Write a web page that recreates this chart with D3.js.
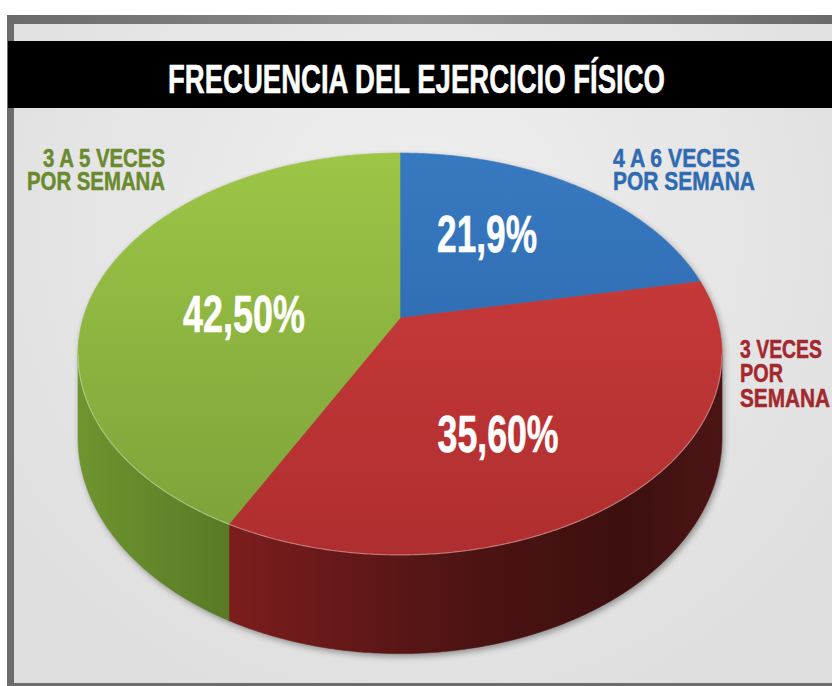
<!DOCTYPE html>
<html lang="es">
<head>
  <meta charset="UTF-8">
  <title>Frecuencia del ejercicio físico</title>
  <script src="https://d3js.org/d3.v7.min.js"></script>
  <style>
    body { margin: 0; background: #fff; }
    svg text { font-family: "Liberation Sans Narrow", "Liberation Sans", sans-serif; font-weight: bold; }
  </style>
</head>
<body>
  <svg class="piesvg" width="832" height="686"></svg>
  <script>
    // data
    const title = 'FRECUENCIA DEL EJERCICIO FÍSICO';
    const categories = ['4 A 6 VECES POR SEMANA', '3 VECES POR SEMANA', '3 A 5 VECES POR SEMANA'];
    const values = [21.9, 35.6, 42.5];
    const valueLabels = ['21,9%', '35,60%', '42,50%'];
    const categoryLines = [['4 A 6 VECES', 'POR SEMANA'], ['3 VECES', 'POR', 'SEMANA'], ['3 A 5 VECES', 'POR SEMANA']];

    // styles
    const topColors = [['#3779c0', '#2961a5'], ['#d03d3d', '#af2e2f'], ['#9dc546', '#7ba139']];
    const sideStops = [
      [[0, '#23508a'], [1, '#1c416f']],
      [[0, '#7c1d1d'], [0.45, '#501414'], [0.8, '#3d0f0f'], [1, '#4c1515']],
      [[0, '#6f942f'], [1, '#597a26']]
    ];
    const textColors = ['#2f6bb2', '#a3282d', '#6a8a2e'];

    // layout
    const pie3d = { cx: 400, cy: 318, rx: 316.8, ry: 194.5, k: 0.179, depth: 81 };
    const valueSpots = [[0.298, -0.474], [0.280, 0.535], [-0.495, -0.025]];
    const valueWidths = [100, 121, 122];
    const catLayout = [
      { x: 613, y: 167, anchor: 'start', lh: 23, size: 26, widths: [127, 142] },
      { x: 740, y: 358, anchor: 'start', lh: 24.3, size: 25, widths: [82, 43, 90] },
      { x: 165, y: 167, anchor: 'end', lh: 23, size: 26, widths: [122, 138] }
    ];

    const svg = d3.select('svg.piesvg');
    const defs = svg.append('defs');

    // frame + background
    const topBorder = defs.append('linearGradient').attr('id', 'topBorder')
      .attr('gradientUnits', 'userSpaceOnUse').attr('x1', 0).attr('x2', 832);
    topBorder.append('stop').attr('offset', 0).attr('stop-color', '#6a6a6a');
    topBorder.append('stop').attr('offset', 0.5).attr('stop-color', '#8e8e8e');
    topBorder.append('stop').attr('offset', 1).attr('stop-color', '#6a6a6a');

    const bg = defs.append('radialGradient').attr('id', 'bg')
      .attr('gradientUnits', 'userSpaceOnUse')
      .attr('cx', 420).attr('cy', 230).attr('r', 520);
    bg.append('stop').attr('offset', 0).attr('stop-color', '#efefef');
    bg.append('stop').attr('offset', 1).attr('stop-color', '#dfdfdf');

    svg.append('rect').attr('x', 7).attr('y', 15).attr('width', 900).attr('height', 680).attr('fill', '#6c6c6c');
    svg.append('rect').attr('x', 7).attr('y', 15).attr('width', 900).attr('height', 9).attr('fill', 'url(#topBorder)');
    svg.append('rect').attr('x', 14).attr('y', 24).attr('width', 900).attr('height', 659).attr('fill', 'url(#bg)');

    svg.append('rect').attr('x', 8).attr('y', 41).attr('width', 900).attr('height', 67).attr('fill', '#000');
    svg.append('text')
      .attr('x', 416.5).attr('y', 93)
      .attr('text-anchor', 'middle')
      .attr('font-size', 41)
      .attr('fill', '#fff')
      .attr('stroke', '#fff').attr('stroke-width', 0.6)
      .attr('textLength', 497).attr('lengthAdjust', 'spacingAndGlyphs')
      .text(title);

    // projection of disk coords (u right, v toward viewer), h = 0 top, 1 bottom
    function projectUV(u, v, h) {
      const s = 1 / (1 - pie3d.k * v);
      return [pie3d.cx + pie3d.rx * u * s, pie3d.cy + (pie3d.ry * v + pie3d.depth * h) * s];
    }
    function project(a, r, h) {
      return projectUV(r * Math.sin(a), -r * Math.cos(a), h);
    }
    function rim(a0, a1, h) {
      const n = Math.max(2, Math.ceil(Math.abs(a1 - a0) / 0.008));
      return d3.range(n + 1).map(i => project(a0 + (a1 - a0) * i / n, 1, h));
    }
    const line = d3.line();

    const arcs = d3.pie().sort(null).value(d => d)(values);
    const sil = Math.acos(-pie3d.k);
    const frontA = sil, frontB = 2 * Math.PI - sil;

    // gradients
    arcs.forEach((d, i) => {
      const g = defs.append('linearGradient').attr('id', 'top' + i)
        .attr('gradientUnits', 'userSpaceOnUse')
        .attr('x1', 0).attr('y1', project(0, 1, 0)[1]).attr('x2', 0).attr('y2', project(Math.PI, 1, 0)[1]);
      g.append('stop').attr('offset', 0).attr('stop-color', topColors[i][0]);
      g.append('stop').attr('offset', 1).attr('stop-color', topColors[i][1]);

      const a0 = Math.max(d.startAngle, frontA), a1 = Math.min(d.endAngle, frontB);
      const x0 = a1 > a0 ? project(a1, 1, 0)[0] : 0;
      const x1 = a1 > a0 ? project(a0, 1, 0)[0] : 1;
      const s = defs.append('linearGradient').attr('id', 'side' + i)
        .attr('gradientUnits', 'userSpaceOnUse')
        .attr('x1', x0).attr('y1', 0).attr('x2', x1).attr('y2', 0);
      sideStops[i].forEach(st => s.append('stop').attr('offset', st[0]).attr('stop-color', st[1]));
    });

    const blur = defs.append('filter').attr('id', 'shadow')
      .attr('x', '-10%').attr('y', '-10%').attr('width', '120%').attr('height', '130%');
    blur.append('feGaussianBlur').attr('stdDeviation', 3);

    // shadow of the whole silhouette
    const outline = rim(frontA, frontB, 1).concat(rim(frontB, frontA + 2 * Math.PI, 0));
    svg.append('path')
      .attr('d', line(outline) + 'Z')
      .attr('transform', 'translate(2,3)')
      .attr('fill', '#2a2a2a')
      .attr('opacity', 0.45)
      .attr('filter', 'url(#shadow)');

    // side walls (front half only)
    arcs.forEach((d, i) => {
      const a0 = Math.max(d.startAngle, frontA), a1 = Math.min(d.endAngle, frontB);
      if (a1 <= a0) return;
      const pts = rim(a0, a1, 0).concat(rim(a1, a0, 1));
      svg.append('path')
        .attr('d', line(pts) + 'Z')
        .attr('fill', `url(#side${i})`)
        .attr('stroke', `url(#side${i})`)
        .attr('stroke-width', 0.6);
    });

    // top faces
    arcs.forEach((d, i) => {
      const pts = [project(0, 0, 0)].concat(rim(d.startAngle, d.endAngle, 0));
      svg.append('path')
        .attr('d', line(pts) + 'Z')
        .attr('fill', `url(#top${i})`)
        .attr('stroke', `url(#top${i})`)
        .attr('stroke-width', 0.6)
        .attr('stroke-linejoin', 'round');
    });

    // light rim on the front edge
    svg.append('path')
      .attr('d', line(rim(frontA, frontB, 0)))
      .attr('fill', 'none')
      .attr('stroke', '#fff')
      .attr('stroke-opacity', 0.35)
      .attr('stroke-width', 1.2);

    // value labels
    arcs.forEach((d, i) => {
      const p = projectUV(valueSpots[i][0], valueSpots[i][1], 0);
      svg.append('text')
        .attr('x', p[0]).attr('y', p[1])
        .attr('dy', '0.36em')
        .attr('text-anchor', 'middle')
        .attr('font-size', 52)
        .attr('fill', '#fff')
        .attr('stroke', '#fff').attr('stroke-width', 0.6)
        .attr('textLength', valueWidths[i]).attr('lengthAdjust', 'spacingAndGlyphs')
        .text(valueLabels[i]);
    });

    // category labels
    categories.forEach((c, i) => {
      const L = catLayout[i];
      const t = svg.append('g').attr('class', 'cat').attr('data-name', c);
      categoryLines[i].forEach((ln, j) => {
        t.append('text')
          .attr('x', L.x).attr('y', L.y + j * L.lh)
          .attr('text-anchor', L.anchor)
          .attr('font-size', L.size)
          .attr('fill', textColors[i])
          .attr('stroke', textColors[i]).attr('stroke-width', 0.5)
          .attr('textLength', L.widths[j]).attr('lengthAdjust', 'spacingAndGlyphs')
          .text(ln);
      });
    });
  </script>
</body>
</html>
